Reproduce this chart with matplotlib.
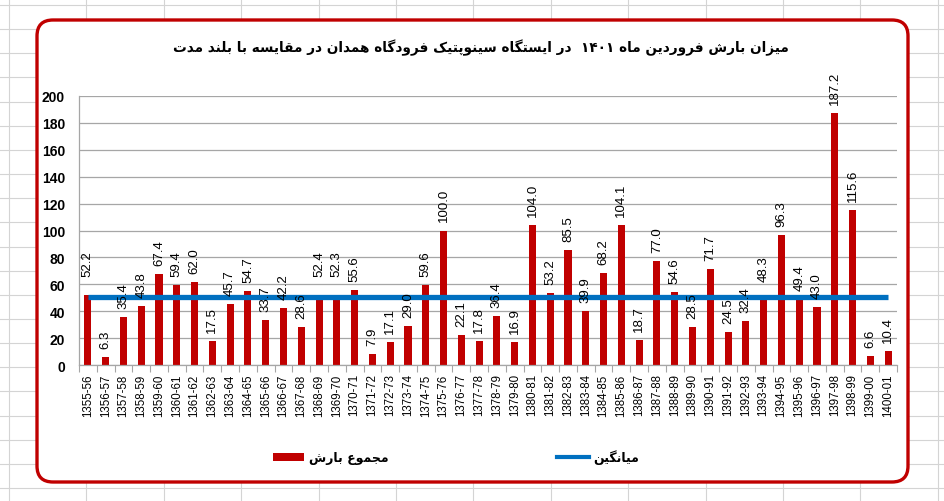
import re
import matplotlib
matplotlib.use("Agg")
import matplotlib.pyplot as plt
from matplotlib.patches import FancyBboxPatch, Patch
from matplotlib.lines import Line2D
import numpy as np

# ---------------- data ----------------
categories = ["1355-56", "1356-57", "1357-58", "1358-59", "1359-60", "1360-61", "1361-62",
              "1362-63", "1363-64", "1364-65", "1365-66", "1366-67", "1367-68", "1368-69",
              "1369-70", "1370-71", "1371-72", "1372-73", "1373-74", "1374-75", "1375-76",
              "1376-77", "1377-78", "1378-79", "1379-80", "1380-81", "1381-82", "1382-83",
              "1383-84", "1384-85", "1385-86", "1386-87", "1387-88", "1388-89", "1389-90",
              "1390-91", "1391-92", "1392-93", "1393-94", "1394-95", "1395-96", "1396-97",
              "1397-98", "1398-99", "1399-00", "1400-01"]
rain_total = [52.2, 6.3, 35.4, 43.8, 67.4, 59.4, 62.0, 17.5, 45.7, 54.7, 33.7, 42.2, 28.6,
              52.4, 52.3, 55.6, 7.9, 17.1, 29.0, 59.6, 100.0, 22.1, 17.8, 36.4, 16.9, 104.0,
              53.2, 85.5, 39.9, 68.2, 104.1, 18.7, 77.0, 54.6, 28.5, 71.7, 24.5, 32.4, 48.3,
              96.3, 49.4, 43.0, 187.2, 115.6, 6.6, 10.4]
mean_value = [50.8] * len(categories)
y_ticks = [0, 20, 40, 60, 80, 100, 120, 140, 160, 180, 200]

title_text = "میزان بارش فروردین ماه ۱۴۰۱  در ایستگاه سینوپتیک فرودگاه همدان در مقایسه با بلند مدت"
legend_total = "مجموع بارش"
legend_mean = "میانگین"

# ---------------- minimal Persian shaping ----------------
FORMS = {
    '\u0627': ('\uFE8D', '\uFE8E', None, None),
    '\u0628': ('\uFE8F', '\uFE90', '\uFE91', '\uFE92'),
    '\u067E': ('\uFB56', '\uFB57', '\uFB58', '\uFB59'),
    '\u062A': ('\uFE95', '\uFE96', '\uFE97', '\uFE98'),
    '\u062C': ('\uFE9D', '\uFE9E', '\uFE9F', '\uFEA0'),
    '\u062F': ('\uFEA9', '\uFEAA', None, None),
    '\u0631': ('\uFEAD', '\uFEAE', None, None),
    '\u0632': ('\uFEAF', '\uFEB0', None, None),
    '\u0633': ('\uFEB1', '\uFEB2', '\uFEB3', '\uFEB4'),
    '\u0634': ('\uFEB5', '\uFEB6', '\uFEB7', '\uFEB8'),
    '\u0639': ('\uFEC9', '\uFECA', '\uFECB', '\uFECC'),
    '\u0641': ('\uFED1', '\uFED2', '\uFED3', '\uFED4'),
    '\u0642': ('\uFED5', '\uFED6', '\uFED7', '\uFED8'),
    '\u06A9': ('\uFB8E', '\uFB8F', '\uFB90', '\uFB91'),
    '\u06AF': ('\uFB92', '\uFB93', '\uFB94', '\uFB95'),
    '\u0644': ('\uFEDD', '\uFEDE', '\uFEDF', '\uFEE0'),
    '\u0645': ('\uFEE1', '\uFEE2', '\uFEE3', '\uFEE4'),
    '\u0646': ('\uFEE5', '\uFEE6', '\uFEE7', '\uFEE8'),
    '\u0647': ('\uFEE9', '\uFEEA', '\uFEEB', '\uFEEC'),
    '\u0648': ('\uFEED', '\uFEEE', None, None),
    '\u06CC': ('\uFBFC', '\uFBFD', '\uFBFE', '\uFBFF'),
}


def shape(s):
    out = []
    for i, c in enumerate(s):
        if c not in FORMS:
            out.append(c)
            continue
        prev = s[i - 1] if i > 0 else None
        nxt = s[i + 1] if i + 1 < len(s) else None
        jp = prev in FORMS and FORMS[prev][2] is not None
        jn = nxt in FORMS and FORMS[c][2] is not None
        iso, fin, ini, med = FORMS[c]
        if jp and jn:
            out.append(med)
        elif jp:
            out.append(fin)
        elif jn:
            out.append(ini)
        else:
            out.append(iso)
    tokens = re.findall(r'[0-9\u06F0-\u06F9.]+|.', ''.join(out))
    return ''.join(reversed(tokens))


# ---------------- figure ----------------
W, H = 945, 502
fig = plt.figure(figsize=(W / 100, H / 100), dpi=100)
fig.patch.set_facecolor("white")

# spreadsheet cell grid in the background
for k in range(13):
    x = (9 + 77.4 * k) / W
    fig.add_artist(Line2D([x, x], [0, 1], transform=fig.transFigure,
                          color="#D4D4D4", lw=0.8, zorder=-3))
for k in range(21):
    y = 1 - (6 + 24.15 * k) / H
    fig.add_artist(Line2D([0, 1], [y, y], transform=fig.transFigure,
                          color="#D4D4D4", lw=0.8, zorder=-3))

# chart area: rounded red frame
box = FancyBboxPatch((37 / 100, (H - 483) / 100), (908 - 37) / 100, (483 - 21) / 100,
                     boxstyle="round,pad=0,rounding_size=0.16",
                     transform=fig.dpi_scale_trans, facecolor="white",
                     edgecolor="#C00000", lw=2.4, zorder=-1)
fig.add_artist(box)

ax = fig.add_axes([79 / W, 1 - 366 / H, (897 - 79) / W, (366 - 97) / H])
ax.set_facecolor("none")
ax.set_zorder(1)

x = np.arange(len(categories))
ax.bar(x, rain_total, width=0.4, color="#C00000", zorder=2)
ax.plot(x, mean_value, color="#0070C0", lw=3.8, solid_capstyle="butt", zorder=3)

label_lift = {0: 10, 13: 10, 14: 10, 38: 10}
for i, v in enumerate(rain_total):
    ax.annotate(f"{v:.1f}", (x[i], v), xytext=(0, 9 + label_lift.get(i, 0)),
                textcoords="offset pixels", rotation=90, ha="center", va="bottom",
                fontsize=9.5, family="Liberation Sans", color="black", zorder=4)

ax.set_xlim(-0.5, len(categories) - 0.5)
ax.set_ylim(0, 200)
ax.set_yticks(y_ticks)
ax.set_yticklabels([str(t) for t in y_ticks], fontsize=10, family="Liberation Sans",
                   fontweight="bold")
ax.tick_params(axis="y", length=0, pad=10)
ax.yaxis.grid(True, color="#A6A6A6", lw=0.9)
ax.set_axisbelow(True)

ax.set_xticks(x)
ax.set_xticklabels(categories, rotation=90, fontsize=8.3, family="Liberation Sans")
ax.set_xticks(np.arange(-0.5, len(categories), 1), minor=True)
ax.tick_params(axis="x", which="major", length=0, pad=6)
ax.tick_params(axis="x", which="minor", length=5, color="#A6A6A6", width=0.8)

for s in ("top", "right"):
    ax.spines[s].set_visible(False)
for s in ("left", "bottom"):
    ax.spines[s].set_color("#A6A6A6")
    ax.spines[s].set_linewidth(0.9)

fig.text(481 / W, 1 - 48 / H, shape(title_text), ha="center", va="center",
         fontsize=9.8, fontweight="bold", family=["DejaVu Sans"])

handles = [Patch(facecolor="#C00000", edgecolor="none"),
           Line2D([], [], color="#0070C0", lw=3)]
fig.legend(handles, [shape(legend_total), shape(legend_mean)],
           loc="center", bbox_to_anchor=(456 / W, 1 - 458 / H), ncol=2, frameon=False,
           prop={"family": "DejaVu Sans", "weight": "bold", "size": 9},
           columnspacing=13.5, handlelength=2.5, handletextpad=0.4, handleheight=0.6)

fig.savefig("out.png", dpi=100)
